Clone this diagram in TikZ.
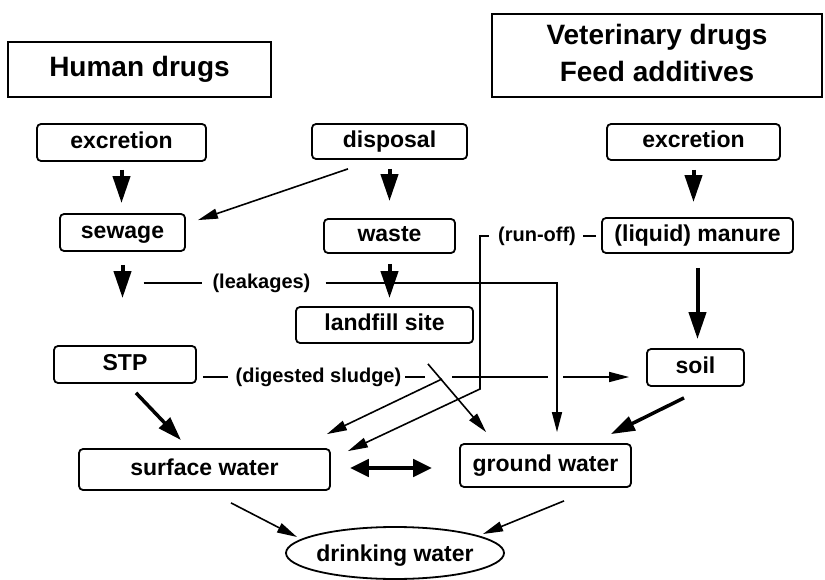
\documentclass[tikz,border=0pt]{standalone}
\usepackage{fontspec}
\setmainfont{Liberation Sans}
\usetikzlibrary{arrows.meta,shapes.geometric}
\begin{document}
\begin{tikzpicture}[x=1pt,y=-1pt,
  box/.style={draw, line width=1.8pt, rounded corners=4pt, inner sep=0pt,
    font=\bfseries\fontsize{23}{27}\selectfont, text height=16.5pt, text depth=4.8pt},
  hdr/.style={draw, line width=1.8pt, inner sep=0pt,
    font=\bfseries\fontsize{28}{37}\selectfont},
  lbl/.style={inner sep=0pt, font=\bfseries\fontsize{20}{24}\selectfont,
    text height=14.4pt, text depth=4.2pt},
  ln/.style={line width=1.6pt},
  thinarr/.style={ln, -{Triangle[length=20pt,width=10pt]}},
  bigarr/.style={line width=4pt, -{Triangle[length=27pt,width=17pt]}},
  medarr/.style={line width=3.5pt, -{Triangle[length=24pt,width=15pt]}},
  dblarr/.style={line width=4.5pt, {Triangle[length=19pt,width=17pt]}-{Triangle[length=19pt,width=17pt]}},
]
\useasboundingbox[fill=white] (0,0) rectangle (825,580);

% headers
\node[hdr, minimum width=263pt, minimum height=55pt, text height=20.2pt, text depth=5.9pt] (hum) at (139.5,69.5) {Human drugs};
\node[hdr, minimum width=330pt, minimum height=83pt] (vet) at (657,55.5)
  {\begin{tabular}{@{}c@{}}Veterinary drugs\\Feed additives\end{tabular}};

% boxes
\node[box, minimum width=169pt, minimum height=37pt] (exL) at (121.5,142.5) {excretion};
\node[box, minimum width=155pt, minimum height=35pt] (disp) at (389.5,141.5) {disposal};
\node[box, minimum width=173pt, minimum height=36pt] (exR) at (693.5,142) {excretion};
\node[box, minimum width=125pt, minimum height=37pt] (sew) at (122.5,232.5) {sewage};
\node[box, minimum width=131pt, minimum height=34pt] (waste) at (389.5,236) {waste};
\node[box, minimum width=191pt, minimum height=35pt] (man) at (697.5,235.5) {(liquid) manure};
\node[box, minimum width=177pt, minimum height=36pt] (land) at (384.5,325) {landfill site};
\node[box, minimum width=142pt, minimum height=37pt] (stp) at (125,364.5) {STP};
\node[box, minimum width=97pt, minimum height=37pt] (soil) at (695.5,367.5) {soil};
\node[box, minimum width=251pt, minimum height=41pt] (sw) at (204.5,469.5) {surface water};
\node[box, minimum width=171pt, minimum height=43pt] (gw) at (545.5,465.5) {ground water};
\node[draw, ellipse, line width=1.8pt, minimum width=218pt, minimum height=52pt, inner sep=0pt,
  font=\bfseries\fontsize{23}{27}\selectfont, text height=18pt, text depth=2pt] (dw) at (395,553)
  {\makebox[0pt]{drinking water}};

% labels
\node[lbl] (leak) at (261.5,283) {(leakages)};
\node[lbl] (ro) at (537,236) {(run-off)};
\node[lbl] (sl) at (318.5,377) {(digested sludge)};

% helper coordinates
\coordinate (lkc) at (557,283);
\coordinate (ro1) at (480,236);
\coordinate (ro2) at (480,389);
\coordinate (sg1) at (452,377);
\coordinate (sg2) at (548,377);
\coordinate (sg3) at (563,377);
\coordinate (sgx) at (442,379);

% short thick arrows
\draw[bigarr, shorten <=8pt, shorten >=10pt] (exL.south) -- (exL.south |- sew.north);
\draw[bigarr, shorten <=9pt, shorten >=17pt] (disp.south) -- (disp.south |- waste.north);
\draw[bigarr, shorten <=9pt, shorten >=15pt] (exR.south) -- (exR.south |- man.north);
\draw[bigarr, shorten <=13pt, shorten >=47pt] (sew.south) -- (sew.south |- stp.north);
\draw[bigarr, shorten <=10pt, shorten >=8pt] (waste.south) -- (waste.south |- land.north);
\draw[bigarr, shorten <=14pt, shorten >=9pt] (man.south) -- (man.south |- soil.north);

% disposal -> sewage
\draw[thinarr] ([xshift=-41.5pt,yshift=-9pt]disp.south) -- ([xshift=12pt,yshift=-7pt]sew.north east);

% leakages
\draw[ln] ([xshift=21pt]sew.south |- leak.west) -- ([xshift=-10pt]leak.west);
\draw[thinarr, shorten >=11pt] ([xshift=15pt]leak.east) -- (lkc) -- (lkc |- gw.north);

% run-off
\draw[ln] ([xshift=-5pt]man.west |- ro.east) -- ([xshift=7pt]ro.east);
\draw[thinarr] ([xshift=-9pt]ro.west) -- (ro1) -- (ro2) -- ([xshift=17pt,yshift=-3pt]sw.north east);

% digested sludge
\draw[ln] ([xshift=6pt]stp.east |- sl.west) -- ([xshift=-8pt]sl.west);
\draw[ln] ([xshift=4pt]sl.east) -- ([xshift=24pt]sl.east);
\draw[ln] (sg1) -- (sg2);
\draw[thinarr, shorten >=17pt] (sg3) -- (sg3 -| soil.west);
\draw[thinarr] (sgx) -- ([xshift=-4pt,yshift=14pt]sw.north east);

% landfill -> ground water
\draw[thinarr] ([xshift=-46pt,yshift=-20pt]land.south east) -- ([xshift=27pt,yshift=11pt]gw.north west);

% STP -> surface water, soil -> ground water
\draw[medarr] ([xshift=11pt,yshift=-9pt]stp.south) -- ([xshift=-23.5pt,yshift=8pt]sw.north);
\draw[medarr] ([xshift=-11.5pt,yshift=-11pt]soil.south) -- ([xshift=-21pt,yshift=9pt]gw.north east);

% surface <-> ground
\draw[dblarr] ([xshift=19pt,yshift=1.5pt]sw.east) -- ([xshift=-27pt,yshift=1.5pt]gw.west |- sw.east);

% to drinking water
\draw[thinarr] ([xshift=26.5pt,yshift=-12pt]sw.south) -- ([xshift=-98pt,yshift=16pt]dw.center);
\draw[thinarr] ([xshift=18.5pt,yshift=-13pt]gw.south) -- ([xshift=88pt,yshift=19pt]dw.center);
\end{tikzpicture}
\end{document}
